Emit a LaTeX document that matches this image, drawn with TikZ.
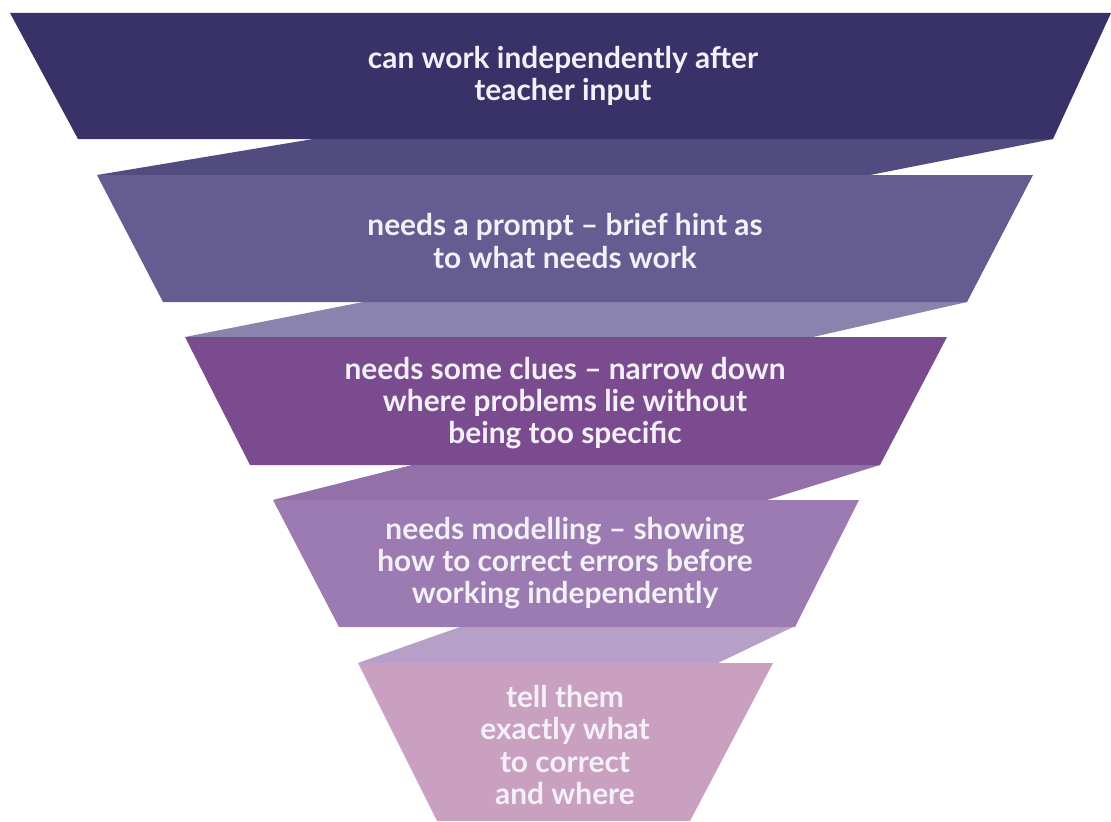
\documentclass[tikz,border=0pt]{standalone}
\usepackage{fontspec}
\setmainfont{Lato}
\usepackage{tikz}
\usetikzlibrary{positioning}
\definecolor{tierone}{HTML}{383268}
\definecolor{foldone}{HTML}{524B80}
\definecolor{tiertwo}{HTML}{655D92}
\definecolor{foldtwo}{HTML}{8983AE}
\definecolor{tierthree}{HTML}{7A4B8F}
\definecolor{foldthree}{HTML}{9470A9}
\definecolor{tierfour}{HTML}{9B7BB2}
\definecolor{foldfour}{HTML}{B7A0C8}
\definecolor{tierfive}{HTML}{C9A0C0}
\definecolor{labelwhite}{HTML}{F4F0F7}

\begin{document}
\begin{tikzpicture}[
  x=0.02cm,y=-0.02cm,
  tier/.style={draw=none},
  fold/.style={draw=none},
  lbl/.style={text=labelwhite,align=center,font=\fontsize{17}{18.3}\selectfont\bfseries}
]
\useasboundingbox (0,0) rectangle (1111,821);
% folds behind the tiers
\fill[fold,foldone] (313,139) -- (1053,139) -- (870,175) -- (97,175) -- cycle;
\fill[fold,foldtwo] (363,302) -- (967,302) -- (813,337) -- (185,337) -- cycle;
\fill[fold,foldthree] (412,465) -- (880,465) -- (767,500) -- (273,500) -- cycle;
\fill[fold,foldfour] (460,627) -- (793,627) -- (718,663) -- (358,663) -- cycle;
% tiers
\fill[tier,tierone] (10,13) -- (1111,13) -- (1053,139) -- (78,139) -- cycle;
\fill[tier,tiertwo] (97,175) -- (1033,175) -- (967,302) -- (163,302) -- cycle;
\fill[tier,tierthree] (185,337) -- (947,337) -- (880,465) -- (250,465) -- cycle;
\fill[tier,tierfour] (273,500) -- (859,500) -- (795,627) -- (339,627) -- cycle;
\fill[tier,tierfive] (358,663) -- (773,663) -- (690,821) -- (437,821) -- cycle;
% labels
\node[lbl] (input) at (563,76) {can work independently after\\teacher input};
\node[lbl] (prompt) at (565,241) {needs a prompt -- brief hint as\\to what needs work};
\node[lbl] (clues) at (565,403) {needs some clues -- narrow down\\where problems lie without\\being too specific};
\node[lbl] (model) at (565,563) {needs modelling -- showing\\how to correct errors before\\working independently};
\node[lbl] (tell) at (565,745) {tell them\\exactly what\\to correct\\and where};
\end{tikzpicture}
\end{document}
